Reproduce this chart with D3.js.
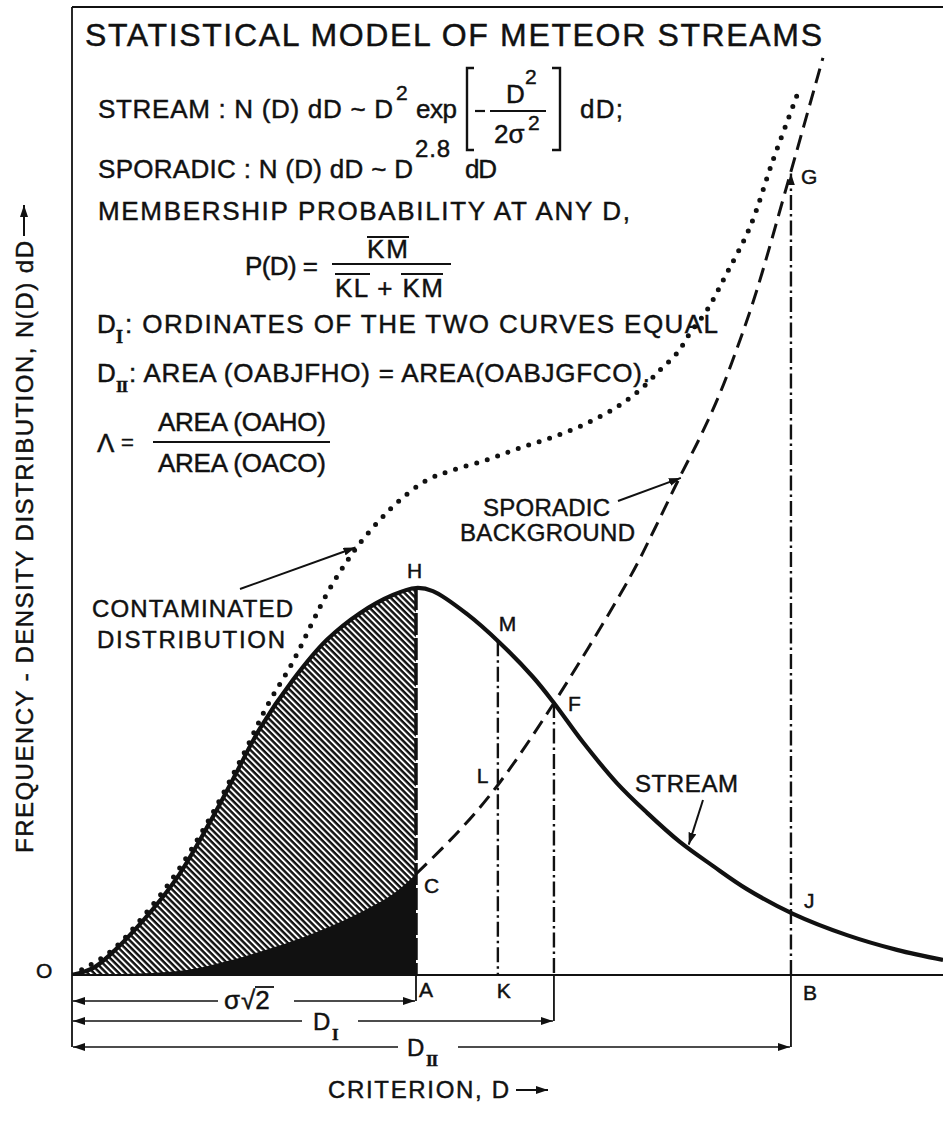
<!DOCTYPE html>
<html>
<head>
<meta charset="utf-8">
<script src="https://cdn.jsdelivr.net/npm/d3@7"></script>
<style>
  html, body { margin: 0; padding: 0; background: #fff; }
  svg { display: block; }
  text { font-family: "Liberation Sans", Arial, sans-serif; fill: #111; stroke: #111; stroke-width: 0.45px; }
</style>
</head>
<body>
<svg id="chart" width="943" height="1122"></svg>
<script>
// Criterion D in units of sigma*sqrt(2); N(D) relative to the stream peak (= 1)
const streamD = [0, 0.061, 0.110, 0.206, 0.305, 0.401, 0.468, 0.547, 0.642, 0.741, 0.837, 0.933, 1.000, 1.049,
                 1.148, 1.244, 1.340, 1.401, 1.485, 1.584, 1.672, 1.767, 1.863, 1.962, 2.096, 2.253, 2.398, 2.532];
const streamN = [0, 0.018, 0.052, 0.140, 0.251, 0.395, 0.506, 0.638, 0.762, 0.866, 0.935, 0.982, 1.000, 0.992,
                 0.933, 0.858, 0.770, 0.703, 0.602, 0.496, 0.419, 0.344, 0.282, 0.222, 0.158, 0.103, 0.065, 0.039];

const sporadicD = [0, 0.169, 0.334, 0.451, 0.642, 0.788, 0.933, 1.000, 1.128, 1.238, 1.401, 1.622, 1.695,
                   1.767, 1.826, 1.884, 1.942, 1.991, 2.087, 2.183];
const sporadicN = [0, 0.003, 0.013, 0.036, 0.088, 0.140, 0.209, 0.261, 0.375, 0.491, 0.703, 1.028, 1.155,
                   1.287, 1.390, 1.504, 1.641, 1.770, 2.067, 2.370];

const contaminatedD = [0, 0.110, 0.206, 0.305, 0.401, 0.497, 0.567, 0.642, 0.701, 0.741, 0.788, 0.837, 0.895,
                       0.953, 1.032, 1.108, 1.206, 1.302, 1.398, 1.497, 1.584, 1.651, 1.709, 1.759, 1.797,
                       1.846, 1.904, 1.971, 2.038, 2.108];
const contaminatedN = [0, 0.059, 0.150, 0.266, 0.406, 0.568, 0.695, 0.809, 0.915, 0.985, 1.054, 1.116, 1.176,
                       1.227, 1.279, 1.305, 1.331, 1.362, 1.390, 1.426, 1.468, 1.512, 1.563, 1.607, 1.659,
                       1.718, 1.814, 1.933, 2.106, 2.274];

// Marked criterion values: A = sigma*sqrt(2), K = sample D, F = D_I, B = D_II
const markNames = ["A", "K", "F", "B"];
const markD = [1.000, 1.238, 1.401, 2.090];

// Texts
const titleText = "STATISTICAL MODEL OF METEOR STREAMS";
const yAxisText = "FREQUENCY - DENSITY DISTRIBUTION, N(D) dD";
const xAxisText = "CRITERION, D";

const svg = d3.select("#chart");
const ink = "#111";

const x = d3.scaleLinear().domain([0, 2.532]).range([72, 943]);
const y = d3.scaleLinear().domain([0, 1]).range([975, 588]);

const pts = (D, N) => D.map((d, i) => [d, N[i]]);
const at = (D, N, d) => {
  const i = d3.bisectLeft(D, d);
  if (i <= 0) return N[0];
  if (i >= D.length) return N[N.length - 1];
  const t = (d - D[i - 1]) / (D[i] - D[i - 1]);
  return N[i - 1] + t * (N[i] - N[i - 1]);
};

const streamPts = pts(streamD, streamN);
const sporadicPts = pts(sporadicD, sporadicN);
const contaminatedPts = pts(contaminatedD, contaminatedN);

const dA = markD[0], dK = markD[1], dF = markD[2], dB = markD[3];

// ---------- defs ----------
const defs = svg.append("defs");
defs.append("marker")
  .attr("id", "arrow").attr("viewBox", "0 0 12 8")
  .attr("refX", 12).attr("refY", 4)
  .attr("markerWidth", 12).attr("markerHeight", 8)
  .attr("markerUnits", "userSpaceOnUse")
  .attr("orient", "auto-start-reverse")
  .append("path").attr("d", "M0,0 L12,4 L0,8 Z").attr("fill", ink);

const pat = defs.append("pattern")
  .attr("id", "hatch").attr("patternUnits", "userSpaceOnUse")
  .attr("width", 8).attr("height", 4.4)
  .attr("patternTransform", "rotate(45)");
pat.append("rect").attr("width", 8).attr("height", 4.4).attr("fill", "#fff");
pat.append("line").attr("x1", 0).attr("x2", 8).attr("y1", 1.2).attr("y2", 1.2)
  .attr("stroke", ink).attr("stroke-width", 2.5);

defs.append("clipPath").attr("id", "plot")
  .append("rect").attr("x", 72).attr("y", 8).attr("width", 871).attr("height", 967);

const curve = d3.curveCatmullRom.alpha(0.5);
const line = d3.line().x(d => x(d[0])).y(d => y(d[1])).curve(curve);
const area = d3.area().x(d => x(d[0])).y0(y(0)).y1(d => y(d[1])).curve(curve);

const plot = svg.append("g").attr("clip-path", "url(#plot)");

// stream area up to A (hatched) and sporadic area up to A (solid)
plot.append("path").datum(streamPts.filter(p => p[0] <= dA + 1e-9))
  .attr("d", area).attr("fill", "url(#hatch)");
plot.append("path").datum(sporadicPts.filter(p => p[0] <= dA + 1e-9))
  .attr("d", area).attr("fill", ink);

// heavy dashed ordinate AH
plot.append("line")
  .attr("x1", x(dA)).attr("x2", x(dA))
  .attr("y1", y(at(streamD, streamN, dA))).attr("y2", y(0))
  .attr("stroke", ink).attr("stroke-width", 3.5).attr("stroke-dasharray", "22,3");

// dash-dot ordinates KM, F and BG
const dashDot = "15,4,2.5,4";
plot.append("line")
  .attr("x1", x(dK)).attr("x2", x(dK))
  .attr("y1", y(at(streamD, streamN, dK))).attr("y2", y(0))
  .attr("stroke", ink).attr("stroke-width", 2.4).attr("stroke-dasharray", dashDot);
plot.append("line")
  .attr("x1", x(dF)).attr("x2", x(dF))
  .attr("y1", y(at(streamD, streamN, dF))).attr("y2", y(0))
  .attr("stroke", ink).attr("stroke-width", 2.4).attr("stroke-dasharray", dashDot);
svg.append("path")
  .attr("d", `M${x(dB)},${y(0)} L${x(dB)},${y(at(sporadicD, sporadicN, dB)) + 2}`)
  .attr("stroke", ink).attr("stroke-width", 2.4).attr("stroke-dasharray", dashDot)
  .attr("fill", "none").attr("marker-end", "url(#arrow)");

// sporadic background beyond A (dashed)
plot.append("path").datum(sporadicPts.filter(p => p[0] >= dA - 1e-9))
  .attr("d", line).attr("fill", "none")
  .attr("stroke", ink).attr("stroke-width", 3).attr("stroke-dasharray", "15,8");

// contaminated distribution (dotted)
plot.append("path").datum(contaminatedPts)
  .attr("d", line).attr("fill", "none")
  .attr("stroke", ink).attr("stroke-width", 5).attr("stroke-linecap", "round")
  .attr("stroke-dasharray", "0,11");

// stream
plot.append("path").datum(streamPts)
  .attr("d", line).attr("fill", "none")
  .attr("stroke", ink).attr("stroke-width", 4.2).attr("stroke-linejoin", "round");

// ---------- frame and axis ----------
const yDimS = 1001, yDimI = 1021, yDimII = 1047;
svg.append("line").attr("x1", 72).attr("x2", 943).attr("y1", 7).attr("y2", 7)
  .attr("stroke", ink).attr("stroke-width", 1.8);
svg.append("line").attr("x1", 72).attr("x2", 72).attr("y1", 7).attr("y2", yDimII)
  .attr("stroke", ink).attr("stroke-width", 1.8);
svg.append("line").attr("x1", 72).attr("x2", 943).attr("y1", y(0)).attr("y2", y(0))
  .attr("stroke", ink).attr("stroke-width", 1.8);

// extension lines below the axis
[[dA, yDimS], [dF, yDimI], [dB, yDimII]].forEach(([d, yy]) => {
  svg.append("line").attr("x1", x(d)).attr("x2", x(d)).attr("y1", y(0)).attr("y2", yy)
    .attr("stroke", ink).attr("stroke-width", 1.8);
});

// dimension lines with a gap for their labels
function dimension(yy, d, gapL, gapR) {
  svg.append("line").attr("x1", gapL).attr("x2", x(0) + 1).attr("y1", yy).attr("y2", yy)
    .attr("stroke", ink).attr("stroke-width", 1.6).attr("marker-end", "url(#arrow)");
  svg.append("line").attr("x1", gapR).attr("x2", x(d) - 1).attr("y1", yy).attr("y2", yy)
    .attr("stroke", ink).attr("stroke-width", 1.6).attr("marker-end", "url(#arrow)");
}
dimension(yDimS, dA, 218, 294);
dimension(yDimI, dF, 302, 358);
dimension(yDimII, dB, 398, 458);

// ---------- text helpers ----------
function txt(t, px, py, size, opt = {}) {
  const el = svg.append("text").attr("x", px).attr("y", py).attr("font-size", size).text(t);
  if (opt.len) el.attr("textLength", opt.len).attr("lengthAdjust", "spacing");
  if (opt.anchor) el.attr("text-anchor", opt.anchor);
  if (opt.family) el.style("font-family", opt.family);
  if (opt.weight) el.attr("font-weight", opt.weight);
  if (opt.spacing !== undefined) el.attr("letter-spacing", opt.spacing);
  if (opt.transform) el.attr("transform", opt.transform);
  return el;
}
function rule(x1, x2, y1, y2, w = 2) {
  svg.append("line").attr("x1", x1).attr("x2", x2).attr("y1", y1).attr("y2", y2)
    .attr("stroke", ink).attr("stroke-width", w);
}
const serif = '"Liberation Serif", "DejaVu Serif", serif';

// title
txt(titleText, 85, 46, 32, { len: 737 });

// stream law
txt("STREAM : N (D) dD ~ D", 98, 118, 26, { len: 295 });
txt("2", 396, 100, 21);
txt("exp", 416, 118, 26, { len: 41 });
svg.append("path").attr("d", "M474,68 L467,68 L467,150 L474,150")
  .attr("fill", "none").attr("stroke", ink).attr("stroke-width", 2.4);
svg.append("path").attr("d", "M552,68 L560,68 L560,150 L552,150")
  .attr("fill", "none").attr("stroke", ink).attr("stroke-width", 2.4);
rule(475, 485, 111, 111, 2.2);
txt("D", 506, 103, 26);
txt("2", 525, 84, 21);
rule(490, 546, 111, 111, 2.2);
txt("2\u03C3", 494, 143, 26);
txt("2", 528, 130, 21);
txt("dD;", 580, 118, 26, { len: 43 });

// sporadic law
txt("SPORADIC : N (D) dD ~ D", 98, 178, 26, { len: 315 });
txt("2.8", 415, 157, 24, { len: 35 });
txt("dD", 465, 178, 26, { len: 32 });

txt("MEMBERSHIP PROBABILITY AT ANY D,", 98, 220, 26, { len: 532 });

// P(D)
txt("P(D) =", 245, 275, 26, { len: 73 });
txt("KM", 367, 258, 26, { len: 41 });
rule(367, 409, 237, 237, 2);
rule(332, 451, 264, 264, 2.2);
txt("KL + KM", 335, 297, 26, { len: 108 });
rule(335, 370, 274, 274, 2);
rule(401, 443, 274, 274, 2);

// D_I and D_II definitions
txt("D", 97, 333, 26);
txt("I", 116, 343, 18, { family: serif, weight: "bold" });
txt(": ORDINATES OF THE TWO CURVES EQUAL", 125, 333, 26, { len: 593 });
txt("D", 97, 382, 26);
txt("II", 116, 392, 17, { family: serif, weight: "bold", spacing: -1 });
txt(": AREA (OABJFHO) = AREA(OABJGFCO).", 129, 382, 26, { len: 521 });

// Lambda
txt("\u039B", 97, 452, 26);
txt("=", 121, 450, 22);
txt("AREA (OAHO)", 158, 431, 26, { len: 168 });
rule(153, 330, 442, 442, 2.2);
txt("AREA (OACO)", 158, 472, 26, { len: 168 });

// callouts
txt("SPORADIC", 483, 516, 24, { len: 127 });
txt("BACKGROUND", 460, 541, 24, { len: 175 });
const spX = 1.77;
svg.append("line").attr("x1", 618).attr("y1", 501)
  .attr("x2", x(spX)).attr("y2", y(at(sporadicD, sporadicN, spX)) + 3)
  .attr("stroke", ink).attr("stroke-width", 2).attr("marker-end", "url(#arrow)");

txt("CONTAMINATED", 92, 617, 24, { len: 201 });
txt("DISTRIBUTION", 97, 648, 24, { len: 188 });
const ctX = 0.83;
svg.append("line").attr("x1", 240).attr("y1", 589)
  .attr("x2", x(ctX) - 2).attr("y2", y(at(contaminatedD, contaminatedN, ctX)) + 1)
  .attr("stroke", ink).attr("stroke-width", 2).attr("marker-end", "url(#arrow)");

txt("STREAM", 635, 792, 24, { len: 103 });
const stX = 1.79;
svg.append("line").attr("x1", 703).attr("y1", 800)
  .attr("x2", x(stX) + 1).attr("y2", y(at(streamD, streamN, stX)) - 3)
  .attr("stroke", ink).attr("stroke-width", 2).attr("marker-end", "url(#arrow)");

// point letters
const lab = 21;
txt("O", x(0) - 36, y(0) + 3, lab);
txt(markNames[0], x(dA) + 3, y(0) + 22, lab);
txt(markNames[1], x(dK) - 1, y(0) + 23, lab);
txt(markNames[3], x(dB) + 12, y(0) + 25, lab);
txt("H", x(dA) - 9, y(1) - 10, lab);
txt("M", x(dK) + 1, y(at(streamD, streamN, dK)) - 10, lab);
txt("F", x(dF) + 14, y(at(streamD, streamN, dF)) + 8, lab);
txt("L", x(dK) - 21, y(at(sporadicD, sporadicN, dK)) - 2, lab);
txt("C", x(dA) + 8, y(at(sporadicD, sporadicN, dA)) + 19, lab);
txt("J", x(dB) + 13, y(at(streamD, streamN, dB)) - 5, lab);
txt("G", x(dB) + 10, y(at(sporadicD, sporadicN, dB)) + 13, lab);

// dimension labels
txt("\u03C3", 224, 1009, 26);
txt("\u221A2", 241, 1009, 26);
rule(255, 274, 987, 987, 1.8);
txt("D", 313, 1030, 24);
txt("I", 332, 1040, 17, { family: serif, weight: "bold" });
txt("D", 407, 1056, 24);
txt("II", 426, 1066, 17, { family: serif, weight: "bold", spacing: -1 });

// axis titles
txt(yAxisText, 0, 0, 24, { len: 612, transform: "translate(33,853) rotate(-90)" });
svg.append("line").attr("x1", 24).attr("x2", 24).attr("y1", 236).attr("y2", 205)
  .attr("stroke", ink).attr("stroke-width", 2).attr("marker-end", "url(#arrow)");

txt(xAxisText, 328, 1098, 24, { len: 181 });
svg.append("line").attr("x1", 516).attr("x2", 548).attr("y1", 1090).attr("y2", 1090)
  .attr("stroke", ink).attr("stroke-width", 2).attr("marker-end", "url(#arrow)");
</script>
</body>
</html>
